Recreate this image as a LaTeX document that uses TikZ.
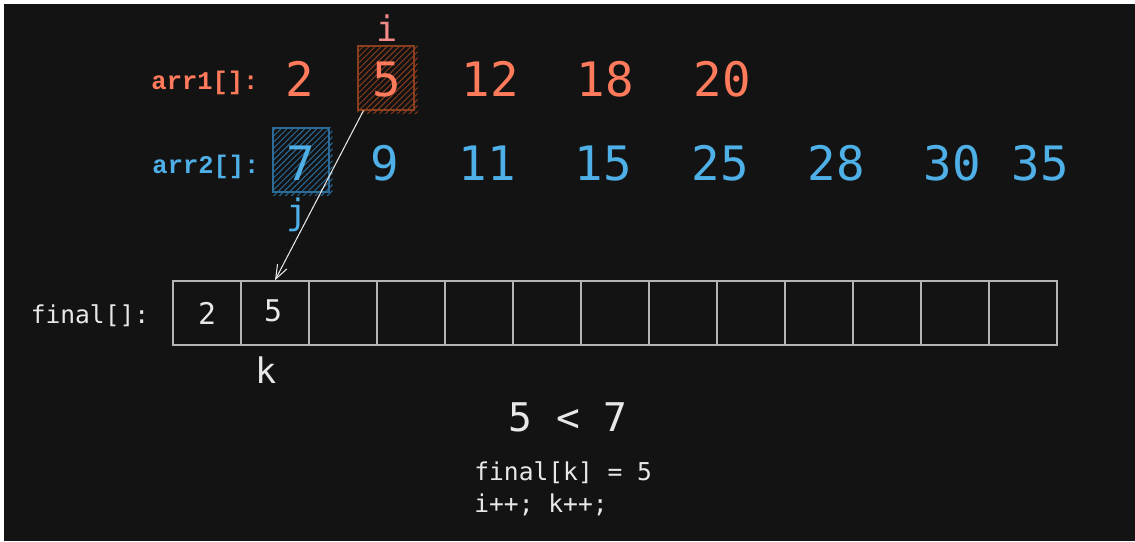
\documentclass[tikz,border=0pt]{standalone}
\usepackage{fontspec}
\setmonofont{DejaVu Sans Mono}
\newfontfamily\arrfont{Liberation Mono}
\usetikzlibrary{positioning,patterns.meta,arrows.meta,calc}
\definecolor{c_bg}{HTML}{131313}
\definecolor{c_one}{HTML}{FF7B5C}
\definecolor{c_two}{HTML}{4FB0E8}
\definecolor{c_i}{HTML}{F28A8A}
\definecolor{c_text}{HTML}{E8E8E8}
\definecolor{c_cell}{HTML}{B4B4B4}
\definecolor{c_boxone}{HTML}{8A3E1E}
\definecolor{c_boxtwo}{HTML}{2B6C99}
\tikzset{num/.style={font=\ttfamily\fontsize{27}{27}\selectfont, inner sep=0pt, anchor=base},
arrlabel/.style={font=\arrfont\bfseries\fontsize{14.5}{14.5}\selectfont, inner sep=0pt, anchor=base},
idx/.style={font=\ttfamily\fontsize{20}{20}\selectfont, inner sep=0pt},
code/.style={font=\ttfamily\fontsize{14}{14}\selectfont, text=c_text, inner sep=0pt},
cell/.style={rectangle, draw=c_cell, line width=0.8pt, minimum width=1.36cm, minimum height=1.28cm, inner sep=0pt, text=c_text, font=\ttfamily\fontsize{17}{17}\selectfont},
hatchbox/.style={rectangle, line width=0.6pt, minimum width=1.12cm, minimum height=1.28cm, inner sep=0pt},
hatch/.style={pattern={Lines[angle=45, distance=2.4pt, line width=0.55pt]}, pattern color=#1},
arrow/.style={draw=c_text, line width=0.6pt, -{Straight Barb[length=8pt, width=6pt]}}}

\begin{document}
\begin{tikzpicture}[x=0.02cm, y=-0.02cm]
\useasboundingbox (0,0) rectangle (1135,541);
\fill[white] (0,0) rectangle (1135,541);
\fill[c_bg] (4,4) rectangle (1135,541);

% first array
\node (arr1) [arrlabel, text=c_one] at (205,89) {arr1[]:};
\node (box5) [hatchbox, draw=c_boxone] at (386,78) {};
\fill[hatch=c_boxone] (box5.north west) rectangle ($(box5.south east)+(3,3)$);
\foreach \v/\x [count=\n] in {2/300, 5/387, 12/490, 18/605, 20/722}
  \node (a\n) [num, text=c_one] at (\x,96) {\v};
\node (ii) [idx, text=c_i, anchor=base] at (387,41) {i};

% second array
\node (arr2) [arrlabel, text=c_two] at (206,173) {arr2[]:};
\node (box7) [hatchbox, draw=c_boxtwo] at (301,160) {};
\fill[hatch=c_boxtwo] (box7.north west) rectangle ($(box7.south east)+(3,3)$);
\foreach \v/\x [count=\n] in {7/301, 9/385, 11/487, 15/603, 25/720, 28/836, 30/952, 35/1040}
  \node (b\n) [num, text=c_two] at (\x,180) {\v};
\node (jj) [idx, text=c_two] at (297,215) {j};

% merged array
\node (fin) [code, anchor=base] at (90,323) {final[]:};
\foreach \n in {1,...,13}
  \node (cell\n) [cell] at ({139+68*\n},313) {};
\node (v1) [cell, draw=none] at (cell1) {2};
\node (v2) [cell, draw=none] at ($(cell2)+(-2,-2)$) {5};
\node (kk) [idx, text=c_text, anchor=base] at (266,383) {k};

\draw [arrow] ($(box5.south west)+(6,0)$) -- (cell2.north);

% step
\node (cmp) [code, font=\ttfamily\fontsize{22.5}{22.5}\selectfont, anchor=base] at (568,431) {5 < 7};
\node (step1) [code, anchor=base west] at (474,480) {final[k] = 5};
\node (step2) [code, anchor=base west] at (474,512) {i++; k++;};
\end{tikzpicture}
\end{document}
